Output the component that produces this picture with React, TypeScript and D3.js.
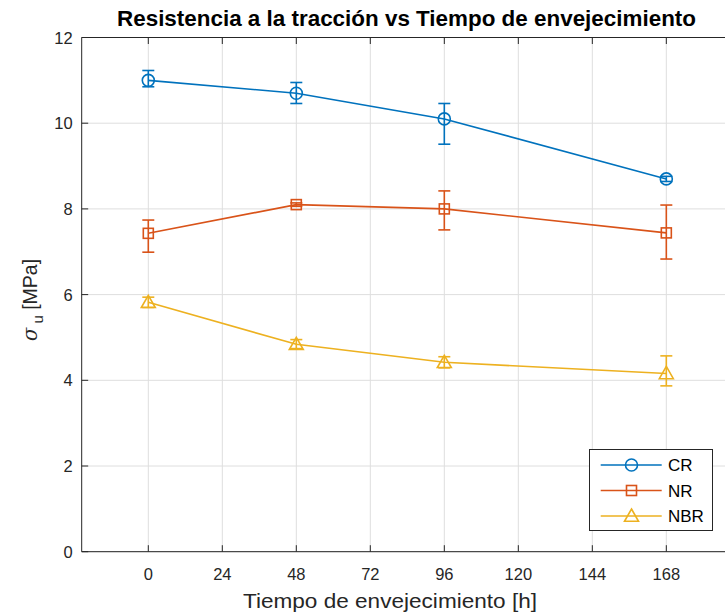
import React from "react";
import * as d3 from "d3";

const hours = [0, 48, 96, 168];
const crValues = [11.0, 10.7, 10.1, 8.7];
const crLow = [10.85, 10.46, 9.51, 8.64];
const crHigh = [11.23, 10.95, 10.46, 8.76];
const nrValues = [7.43, 8.1, 8.0, 7.44];
const nrLow = [6.99, 8.06, 7.51, 6.83];
const nrHigh = [7.74, 8.14, 8.42, 8.09];
const nbrValues = [5.82, 4.84, 4.42, 4.16];
const nbrLow = [5.7, 4.74, 4.29, 3.87];
const nbrHigh = [5.94, 4.95, 4.55, 4.57];
const seriesNames = ["CR", "NR", "NBR"];
const seriesColors = ["#0072BD", "#D95319", "#EDB120"];
const xTicks = [0, 24, 48, 72, 96, 120, 144, 168];
const yTicks = [0, 2, 4, 6, 8, 10, 12];

const W = 725;
const H = 615;
const FONT = "'Liberation Sans', Arial, Helvetica, sans-serif";

function Marker({ kind, x, y, color }: { kind: number; x: number; y: number; color: string }) {
  if (kind === 0) return <circle cx={x} cy={y} r={6} fill="none" stroke={color} strokeWidth={1.6} />;
  if (kind === 1) return <rect x={x - 5} y={y - 5} width={10} height={10} fill="none" stroke={color} strokeWidth={1.6} />;
  const s = 7;
  return (
    <path
      d={`M${x},${y - s} L${x + s},${y + s * 0.75} L${x - s},${y + s * 0.75} Z`}
      fill="none"
      stroke={color}
      strokeWidth={1.6}
    />
  );
}

export default function App() {
  const x = d3.scaleLinear().domain([-21.6, 189.3]).range([81.7, 732]);
  const y = d3.scaleLinear().domain([0, 12]).range([551.7, 37.5]);
  const left = x.range()[0];
  const right = x.range()[1];
  const top = y.range()[1];
  const bottom = y.range()[0];

  const series = [
    { v: crValues, lo: crLow, hi: crHigh },
    { v: nrValues, lo: nrLow, hi: nrHigh },
    { v: nbrValues, lo: nbrLow, hi: nbrHigh },
  ];
  const line = d3
    .line<number>()
    .x((_, i) => x(hours[i]))
    .y((d) => y(d));

  const axisColor = "#262626";
  const gridColor = "#dedede";

  const legX = 589.5;
  const legY = 449.5;
  const legW = 123;
  const legH = 81;
  const tickFont = 16.5;

  return (
    <svg
      width={W}
      height={H}
      style={{ position: "absolute", left: 0, top: 0, background: "#fff" }}
      fontFamily={FONT}
    >
      <rect x={0} y={0} width={W} height={H} fill="#fff" />
      {/* grid */}
      {xTicks.map((t) => (
        <line key={"gx" + t} x1={x(t)} x2={x(t)} y1={top} y2={bottom} stroke={gridColor} strokeWidth={1} />
      ))}
      {yTicks.map((t) => (
        <line key={"gy" + t} x1={left} x2={right} y1={y(t)} y2={y(t)} stroke={gridColor} strokeWidth={1} />
      ))}
      {/* axes box */}
      <line x1={left} x2={right} y1={bottom} y2={bottom} stroke={axisColor} strokeWidth={1} />
      <line x1={left} x2={right} y1={top} y2={top} stroke={axisColor} strokeWidth={1} />
      <line x1={left} x2={left} y1={top} y2={bottom} stroke={axisColor} strokeWidth={1} />
      {xTicks.map((t) => (
        <g key={"tx" + t}>
          <line x1={x(t)} x2={x(t)} y1={bottom} y2={bottom - 6.5} stroke={axisColor} />
          <line x1={x(t)} x2={x(t)} y1={top} y2={top + 6.5} stroke={axisColor} />
          <text x={x(t)} y={bottom + 28} textAnchor="middle" fontSize={tickFont} fill={axisColor}>
            {t}
          </text>
        </g>
      ))}
      {yTicks.map((t) => (
        <g key={"ty" + t}>
          <line x1={left} x2={left + 6.5} y1={y(t)} y2={y(t)} stroke={axisColor} />
          <text x={left - 9} y={y(t) + 6} textAnchor="end" fontSize={tickFont} fill={axisColor}>
            {t}
          </text>
        </g>
      ))}
      {/* series */}
      {series.map((s, k) => (
        <g key={"s" + k}>
          <path d={line(s.v) || ""} fill="none" stroke={seriesColors[k]} strokeWidth={1.6} />
          {s.v.map((v, i) => (
            <g key={i}>
              <line x1={x(hours[i])} x2={x(hours[i])} y1={y(s.lo[i])} y2={y(s.hi[i])} stroke={seriesColors[k]} strokeWidth={1.6} />
              <line x1={x(hours[i]) - 6} x2={x(hours[i]) + 6} y1={y(s.lo[i])} y2={y(s.lo[i])} stroke={seriesColors[k]} strokeWidth={1.6} />
              <line x1={x(hours[i]) - 6} x2={x(hours[i]) + 6} y1={y(s.hi[i])} y2={y(s.hi[i])} stroke={seriesColors[k]} strokeWidth={1.6} />
              <Marker kind={k} x={x(hours[i])} y={y(v)} color={seriesColors[k]} />
            </g>
          ))}
        </g>
      ))}
      {/* legend */}
      <rect x={legX} y={legY} width={legW} height={legH} fill="#fff" stroke={axisColor} strokeWidth={1} />
      {seriesNames.map((n, k) => {
        const ly = 465 + k * 25.5;
        return (
          <g key={"l" + n}>
            <line x1={600.7} x2={661.7} y1={ly} y2={ly} stroke={seriesColors[k]} strokeWidth={1.6} />
            <Marker kind={k} x={631.5} y={ly} color={seriesColors[k]} />
            <text x={668} y={ly + 6} fontSize={17} fill="#000">
              {n}
            </text>
          </g>
        );
      })}
      {/* labels */}
      <text
        x={406.5}
        y={26}
        textAnchor="middle"
        fontSize={21.5}
        fontWeight="bold"
        fill="#000"
        textLength={579}
        lengthAdjust="spacingAndGlyphs"
      >
        Resistencia a la tracción vs Tiempo de envejecimiento
      </text>
      <text
        x={390}
        y={608}
        textAnchor="middle"
        fontSize={20.5}
        fill={axisColor}
        textLength={294}
        lengthAdjust="spacingAndGlyphs"
      >
        Tiempo de envejecimiento [h]
      </text>
      <text transform={`translate(37,${300}) rotate(-90)`} textAnchor="middle" fontSize={19.5} fill={axisColor}>
        <tspan fontFamily="'DejaVu Serif', serif" fontStyle="italic">σ</tspan>
        <tspan dy={6} fontSize={15}> u</tspan>
        <tspan dy={-6}> [MPa]</tspan>
      </text>
    </svg>
  );
}
